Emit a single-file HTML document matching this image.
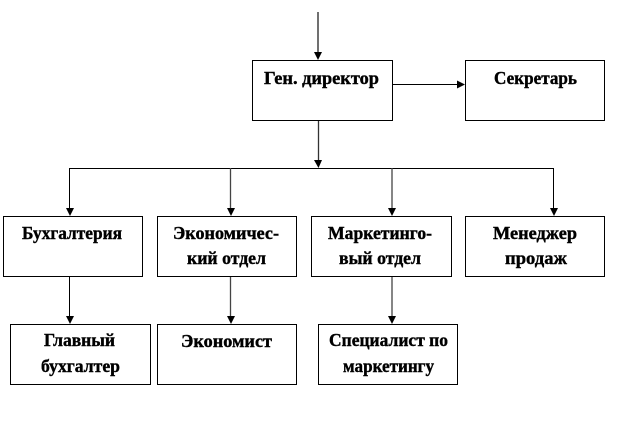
<!DOCTYPE html>
<html>
<head>
<meta charset="utf-8">
<style>
html,body{margin:0;padding:0;background:#fff;width:641px;height:432px;overflow:hidden}
svg{display:block}
text{font-family:"Liberation Serif","Noto Serif CJK SC",serif;font-weight:bold;font-size:18px;fill:#000;stroke:#000;stroke-width:.4;text-anchor:start}
rect{fill:#fff;stroke:#000;stroke-width:1}
line{stroke:#000;stroke-width:1}
polygon{fill:#000}
</style>
</head>
<body>
<svg width="641" height="432" viewBox="0 0 641 432" xmlns="http://www.w3.org/2000/svg">
<line x1="318" y1="12" x2="318" y2="54" style="stroke-width:1.3;stroke:#222"/><polygon points="314,52 322,52 318,60"/>
<line x1="393" y1="84.5" x2="460" y2="84.5"/><polygon points="457,80.5 457,88.5 465,84.5"/>
<line x1="318.5" y1="120" x2="318.5" y2="162" style="stroke:#333;stroke-width:1.3"/><polygon points="314,160 322,160 318.5,168"/>
<line x1="69.5" y1="168.5" x2="553.5" y2="168.5"/>
<line x1="69.5" y1="168" x2="69.5" y2="210"/><polygon points="66,208 74,208 70,216"/>
<line x1="230.5" y1="168" x2="230.5" y2="210" style="stroke:#444;stroke-width:1.3"/><polygon points="227,208 235,208 231,216"/>
<line x1="392" y1="168" x2="392" y2="210" style="stroke:#444;stroke-width:1.3"/><polygon points="388,208 396,208 392,216"/>
<line x1="553.5" y1="168" x2="553.5" y2="210"/><polygon points="550,208 558,208 554,216"/>
<line x1="69.5" y1="276" x2="69.5" y2="318"/><polygon points="66,316 74,316 70,324"/>
<line x1="230.5" y1="276" x2="230.5" y2="318" style="stroke:#444;stroke-width:1.3"/><polygon points="227,316 235,316 231,324"/>
<line x1="392" y1="276" x2="392" y2="318" style="stroke:#444;stroke-width:1.3"/><polygon points="388,316 396,316 392,324"/>

<rect x="252.5" y="60.5" width="140" height="60"/>
<rect x="465.5" y="60.5" width="139" height="60"/>
<rect x="3.5" y="216.5" width="139" height="60"/>
<rect x="157.5" y="216.5" width="139" height="60"/>
<rect x="311.5" y="216.5" width="140" height="60"/>
<rect x="465.5" y="216.5" width="139" height="60"/>
<rect x="10.5" y="324.5" width="140" height="60"/>
<rect x="157.5" y="324.5" width="139" height="60"/>
<rect x="318.5" y="324.5" width="139" height="60"/>

<text x="264" y="84" textLength="115" lengthAdjust="spacingAndGlyphs">Ген. директор</text>
<text x="494" y="84" textLength="83" lengthAdjust="spacingAndGlyphs">Секретарь</text>
<text x="22" y="239" textLength="100" lengthAdjust="spacingAndGlyphs">Бухгалтерия</text>
<text x="173" y="239" textLength="106" lengthAdjust="spacingAndGlyphs">Экономичес-</text>
<text x="187" y="264" textLength="79" lengthAdjust="spacingAndGlyphs">кий отдел</text>
<text x="328" y="239" textLength="104" lengthAdjust="spacingAndGlyphs">Маркетинго-</text>
<text x="339" y="264" textLength="82" lengthAdjust="spacingAndGlyphs">вый отдел</text>
<text x="493" y="239" textLength="84" lengthAdjust="spacingAndGlyphs">Менеджер</text>
<text x="505" y="264" textLength="62" lengthAdjust="spacingAndGlyphs">продаж</text>
<text x="44" y="346" textLength="71" lengthAdjust="spacingAndGlyphs">Главный</text>
<text x="41" y="372" textLength="79" lengthAdjust="spacingAndGlyphs">бухгалтер</text>
<text x="181" y="347" textLength="91" lengthAdjust="spacingAndGlyphs">Экономист</text>
<text x="329" y="346" textLength="119" lengthAdjust="spacingAndGlyphs">Специалист по</text>
<text x="343" y="372" textLength="91" lengthAdjust="spacingAndGlyphs">маркетингу</text>
</svg>
</body>
</html>
